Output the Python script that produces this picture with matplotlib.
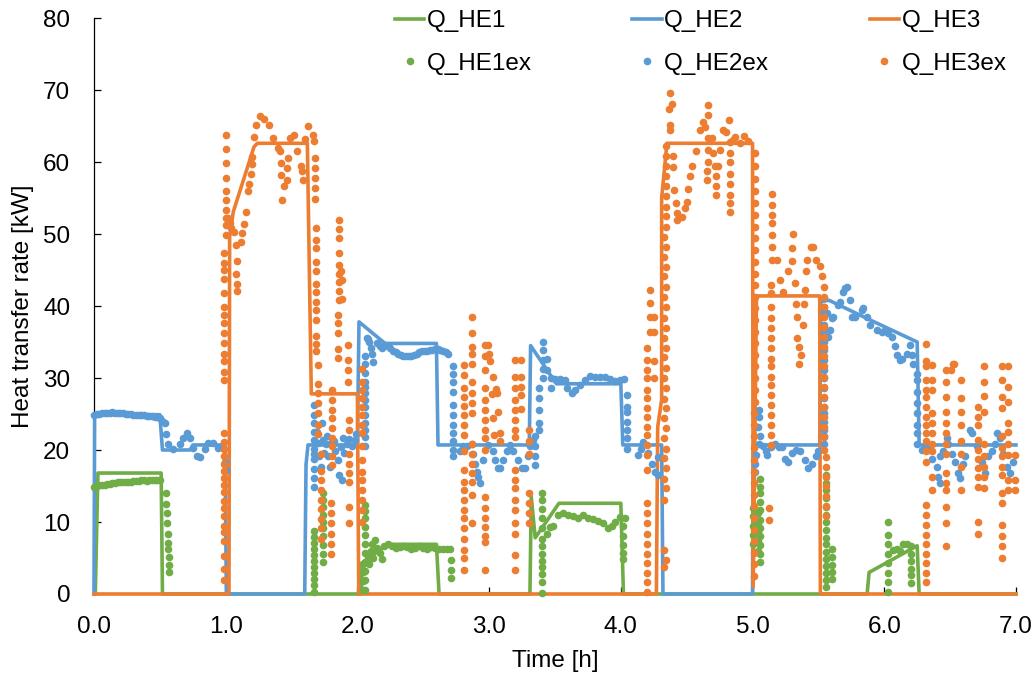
import matplotlib.pyplot as plt
from matplotlib.ticker import FormatStrFormatter

plt.rcParams['font.family'] = ['Liberation Sans', 'DejaVu Sans']

GREEN = '#70AD47'
BLUE = '#5B9BD5'
ORANGE = '#ED7D31'

# model curves (time in h, heat transfer rate in kW)
he1_t = [0.0, 0.01, 0.03, 0.51, 0.52, 2.03, 2.035, 2.23, 2.60, 2.62, 3.31, 3.32, 3.35, 3.53,
         4.00, 4.02, 5.87, 5.885, 6.25, 6.265, 7.0]
he1_q = [0, 0, 16.8, 16.8, 0, 0, 4.3, 6.9, 6.9, 0, 0, 13.5, 7.8, 12.6,
         12.6, 0, 0, 3.0, 6.7, 0, 0]

he2_t = [0.0, 0.005, 0.50, 0.52, 0.73, 0.75, 0.995, 1.005, 1.60, 1.61, 1.625, 2.00, 2.012,
         2.21, 2.60, 2.612, 3.305, 3.315, 3.51, 4.00, 4.015, 4.31, 4.32, 5.00, 5.005, 5.51,
         5.52, 5.58, 5.90, 6.25, 6.265, 7.0]
he2_q = [0, 24.9, 24.9, 20.0, 20.0, 20.7, 20.7, 0, 0, 18.0, 20.7, 20.7, 37.8,
         34.8, 34.8, 20.7, 20.7, 34.5, 29.2, 29.2, 20.7, 20.7, 0, 0, 20.7, 20.7,
         40.6, 40.8, 38.0, 35.0, 20.7, 20.7]

he3_t = [0.0, 1.025, 1.03, 1.058, 1.215, 1.24, 1.62, 1.65, 2.0, 2.01, 4.27, 4.28, 4.31,
         4.31, 4.35, 5.0, 5.005, 5.03, 5.51, 5.515, 7.0]
he3_q = [0, 0, 49.6, 53.1, 62.1, 62.6, 62.6, 27.8, 27.8, 0, 0, 23.2, 27.0,
         55.0, 62.6, 62.6, 1.0, 41.4, 41.4, 0, 0]

# measured values: vertical runs as (time, [values]) and single points as (time, value)
he1ex_cols = [
    (1.67, [0.3, 1.2, 2.1, 2.9, 3.8, 4.6, 5.4, 6.3, 7.1, 7.9, 8.7]),
    (1.74, [4.4, 5.6, 6.8, 8.0, 9.1, 10.0, 11.0, 12.1, 13.0, 14.0]),
    (2.04, [0.5, 1.8, 3.0, 4.2]),
    (2.06, [0.6, 1.9, 3.2, 4.5, 5.7, 6.9, 8.2, 9.3, 10.5, 11.5, 12.4]),
    (2.71, [2.2, 3.4, 4.7]),
    (3.405, [0.2, 1.6, 2.8, 3.7, 4.6, 5.5, 6.6, 7.7, 9.1, 10.5, 11.8, 13.0, 14.0]),
    (4.02, [4.8, 5.7, 6.8, 8.0, 9.4]),
    (5.005, [7.0, 8.2, 9.5, 10.8, 12.0]),
    (5.045, [6.0, 7.3, 8.6, 9.9, 11.3]),
    (5.06, [4.4, 5.6, 6.8, 8.0, 9.2, 10.3, 11.6, 12.8, 14.0, 14.9, 16.0]),
    (5.555, [1.0, 1.9, 2.9, 3.9, 4.9, 5.9, 6.9, 7.8, 8.9, 10.0, 11.0, 12.1, 13.3, 14.4, 15.4, 16.5]),
    (5.60, [2.1, 3.0, 4.0, 5.2, 6.3]),
    (6.03, [0.3, 1.7, 2.9, 4.3, 5.6, 7.0, 8.2, 10.0]),
    (6.205, [1.5, 2.6, 3.5, 4.6, 5.6, 6.6]),
]
he1ex_pts = [
    (0.00, 14.9), (0.02, 15.0), (0.04, 15.1), (0.06, 15.2), (0.08, 15.2), (0.10, 15.3),
    (0.12, 15.3), (0.14, 15.4), (0.16, 15.4), (0.18, 15.5), (0.20, 15.5), (0.22, 15.5),
    (0.24, 15.6), (0.26, 15.6), (0.28, 15.6), (0.30, 15.7), (0.32, 15.7), (0.34, 15.7),
    (0.36, 15.8), (0.38, 15.8), (0.40, 15.7), (0.42, 15.8), (0.44, 15.8), (0.46, 15.9),
    (0.48, 15.9), (0.50, 15.8),
    (0.547, 14.0), (0.550, 12.5), (0.553, 11.2), (0.557, 9.9), (0.560, 8.4), (0.563, 7.1),
    (0.565, 6.2), (0.568, 5.1), (0.570, 4.0), (0.572, 3.0),
    (2.08, 5.2), (2.09, 4.2), (2.10, 6.0), (2.11, 7.0), (2.12, 5.0), (2.13, 7.5), (2.15, 6.4),
    (2.17, 5.7), (2.19, 4.8), (2.20, 6.6), (2.23, 6.9), (2.26, 6.7), (2.29, 6.4), (2.32, 6.5),
    (2.35, 6.7), (2.38, 6.5), (2.41, 6.3), (2.44, 6.4), (2.47, 6.6), (2.50, 6.4), (2.53, 6.3),
    (2.56, 6.5), (2.59, 6.4), (2.62, 6.3), (2.65, 6.2), (2.68, 6.3), (2.70, 6.2),
    (3.437, 8.4), (3.462, 9.3), (3.488, 9.4), (3.526, 11.0), (3.564, 11.2), (3.601, 11.0),
    (3.639, 10.8), (3.677, 10.6), (3.715, 11.0), (3.753, 10.6), (3.791, 10.4), (3.829, 10.1),
    (3.867, 9.8), (3.905, 9.1), (3.930, 9.5), (3.956, 10.0), (3.994, 10.7), (4.032, 10.6),
    (6.07, 6.1), (6.10, 6.3), (6.12, 6.0), (6.145, 7.0), (6.17, 6.9),
]

he2ex_cols = [
    (1.668, [14.9, 16.1, 17.4, 18.8, 19.5, 20.2, 21.4, 22.5, 23.7, 24.9, 26.2]),
    (2.055, [20.5, 21.8, 22.8, 23.8, 24.9, 26.0, 26.9, 27.9, 28.7, 29.5, 30.7, 32.0, 33.0]),
    (2.725, [19.1, 20.0, 21.2, 22.3, 23.5, 24.9, 26.3, 28.0, 29.5, 30.6, 31.6]),
    (3.35, [17.9, 19.1, 20.5, 21.9]),
    (3.38, [22.8, 23.7, 25.6, 27.2, 28.6]),
    (3.41, [30.0, 31.3, 32.5, 33.9, 35.0]),
    (4.05, [20.2, 21.6, 22.8, 23.9, 25.3, 26.0, 27.6]),
    (5.54, [20.9, 21.9, 22.8, 23.9, 25.1, 26.0, 27.2, 28.6, 30.0, 31.1, 32.5, 33.9, 35.0,
            36.2, 37.4, 39.0, 39.9]),
    (6.245, [20.9, 22.3, 23.5, 25.1, 26.5, 28.1, 29.7, 30.6]),
]
he2ex_pts = [
    (0.00, 24.8), (0.02, 25.0), (0.04, 25.0), (0.06, 25.1), (0.08, 25.1), (0.10, 25.2),
    (0.12, 25.2), (0.14, 25.3), (0.16, 25.2), (0.18, 25.2), (0.20, 25.1), (0.22, 25.1),
    (0.24, 25.0), (0.26, 25.0), (0.28, 25.0), (0.30, 24.9), (0.32, 24.9), (0.34, 24.8),
    (0.36, 24.8), (0.38, 24.8), (0.40, 24.7), (0.42, 24.7), (0.44, 24.7), (0.46, 24.6),
    (0.48, 24.6), (0.50, 24.5),
    (0.52, 24.0), (0.539, 23.7), (0.547, 22.2), (0.564, 20.9), (0.602, 20.1), (0.653, 20.9),
    (0.678, 21.7), (0.704, 22.4), (0.729, 21.7), (0.754, 20.3), (0.779, 19.1), (0.805, 19.0),
    (0.843, 20.2), (0.868, 21.0), (0.906, 21.0), (0.944, 20.3), (0.982, 20.3), (0.995, 18.4),
    (1.002, 17.2),
    (1.69, 22.5), (1.70, 21.0), (1.71, 19.2), (1.72, 17.6), (1.735, 23.7), (1.74, 21.4),
    (1.745, 19.6), (1.76, 20.8), (1.77, 22.0), (1.78, 19.1), (1.79, 17.6), (1.80, 21.0),
    (1.82, 21.2), (1.83, 19.8), (1.85, 18.6), (1.86, 16.5), (1.875, 20.4), (1.88, 15.8),
    (1.89, 21.6), (1.90, 19.6), (1.92, 20.8), (1.94, 21.5), (1.96, 20.6), (1.98, 21.4),
    (1.99, 22.2),
    (2.07, 35.5), (2.08, 35.4), (2.09, 35.0), (2.10, 34.2), (2.11, 33.4), (2.12, 32.2),
    (2.15, 34.8), (2.17, 34.5), (2.19, 34.2), (2.21, 34.6), (2.23, 34.4), (2.25, 34.1),
    (2.27, 33.8), (2.29, 33.6), (2.31, 33.4), (2.33, 33.2), (2.35, 33.1), (2.37, 33.0),
    (2.39, 33.0), (2.41, 33.0), (2.43, 33.2), (2.45, 33.4), (2.47, 33.6), (2.49, 33.7),
    (2.51, 33.8), (2.53, 33.8), (2.55, 33.9), (2.57, 33.9), (2.59, 34.0), (2.61, 34.0),
    (2.63, 33.9), (2.65, 33.8), (2.67, 33.6), (2.69, 33.4),
    (2.779, 19.8), (2.80, 20.5), (2.830, 20.5), (2.868, 20.9), (2.880, 19.5), (2.893, 18.1),
    (2.906, 17.0), (2.918, 16.3), (2.931, 15.4), (2.956, 18.6), (2.994, 20.7), (3.032, 19.8),
    (3.045, 18.6), (3.070, 17.5), (3.083, 17.5), (3.108, 18.6), (3.133, 19.8), (3.159, 20.7),
    (3.184, 19.8), (3.222, 18.6), (3.247, 17.5), (3.273, 17.5), (3.298, 19.1), (3.311, 20.5),
    (3.336, 21.4),
    (3.437, 32.7), (3.44, 31.1), (3.47, 30.0), (3.47, 28.6), (3.500, 29.8), (3.538, 29.8),
    (3.576, 29.7), (3.589, 28.6), (3.627, 27.9), (3.652, 28.3), (3.690, 29.0), (3.728, 29.7),
    (3.766, 30.3), (3.804, 30.1), (3.842, 30.1), (3.880, 30.1), (3.918, 29.9), (3.956, 29.6),
    (3.994, 29.7), (4.024, 29.9),
    (4.133, 19.3), (4.15, 20.2), (4.17, 21.1), (4.21, 19.6), (4.238, 18.1), (4.26, 17.0),
    (4.28, 16.5), (4.285, 19.0),
    (5.015, 18.1), (5.019, 17.0), (5.025, 19.3), (5.05, 20.9), (5.055, 21.9), (5.045, 23.2),
    (5.05, 24.6), (5.05, 25.6), (5.08, 20.6), (5.10, 19.9), (5.11, 19.3), (5.14, 20.4),
    (5.17, 20.9), (5.20, 20.4), (5.22, 20.4), (5.25, 18.7), (5.27, 18.4), (5.30, 19.6),
    (5.33, 20.0), (5.36, 19.8), (5.40, 18.6), (5.42, 17.5), (5.45, 18.1), (5.48, 19.1),
    (5.50, 19.8),
    (5.563, 39.0), (5.576, 35.7), (5.588, 36.7), (5.601, 38.3), (5.614, 38.5), (5.651, 40.1),
    (5.664, 40.6), (5.690, 42.0), (5.702, 42.5), (5.715, 42.7), (5.740, 40.8), (5.753, 38.5),
    (5.778, 38.5), (5.829, 39.4), (5.841, 39.7), (5.867, 38.5), (5.892, 37.4), (5.943, 36.7),
    (5.981, 36.4), (6.006, 36.7), (6.031, 36.2), (6.057, 35.7), (6.082, 34.4), (6.095, 33.2),
    (6.120, 32.5), (6.133, 32.7), (6.171, 33.4), (6.196, 34.6), (6.209, 33.2), (6.221, 32.0),
    (6.285, 20.0), (6.310, 20.5), (6.335, 20.2), (6.360, 18.8), (6.399, 17.7), (6.41, 16.3),
    (6.42, 15.4), (6.424, 19.1), (6.449, 19.8), (6.474, 21.6), (6.487, 20.9), (6.512, 19.5),
    (6.538, 18.4), (6.563, 16.8), (6.575, 16.1), (6.601, 18.1), (6.613, 19.1), (6.651, 22.8),
    (6.664, 22.3), (6.702, 20.5), (6.740, 18.4), (6.765, 16.8), (6.791, 19.1), (6.816, 19.8),
    (6.841, 20.9), (6.854, 22.3), (6.879, 21.6), (6.904, 19.5), (6.930, 17.7), (6.955, 16.8),
    (6.981, 18.4),
]

he3ex_cols = [
    (0.985, [1.9, 3.5, 5.3, 7.4, 8.6, 9.5, 10.8, 12.0, 12.9, 14.1, 15.2, 16.1, 17.1, 18.0,
             19.2, 20.1, 21.1, 22.3]),
    (0.99, [29.7, 30.9, 32.3, 33.4, 34.8, 36.2, 37.6, 38.7, 39.8, 41.8, 43.8, 45.0, 46.0, 47.3]),
    (1.0, [49.9, 51.2, 52.2, 53.3, 54.7, 56.0, 57.8, 59.8, 61.8, 63.8]),
    (1.678, [54.9, 56.4, 57.8, 59.2, 60.5]),
    (1.685, [33.7, 34.7, 35.9, 38.0, 39.5, 40.5, 41.9, 43.1, 44.8, 46.1, 48.0, 49.1, 50.8]),
    (1.70, [22.2, 23.5, 25.2, 26.5, 27.9, 29.1, 31.8]),
    (1.725, [7.7, 9.1, 10.4, 11.8, 13.1, 14.4, 15.8, 17.1, 19.5]),
    (1.80, [5.6, 7.0, 8.4, 9.8, 11.2, 12.6]),
    (1.81, [17.9, 19.1, 20.5, 21.6, 23.0, 24.4, 25.6, 26.9, 28.3]),
    (1.85, [32.8, 34.0, 36.2, 37.6, 38.8]),
    (1.86, [40.9, 42.1, 43.3, 44.4, 45.7, 47.4, 49.4, 50.7, 52.0]),
    (1.93, [29.5, 31.1, 32.5, 34.6]),
    (1.935, [9.8, 12.1, 15.5, 16.8, 18.1, 19.5, 22.8, 24.2]),
    (2.035, [10.0, 11.7, 13.1, 14.4, 15.8, 17.0, 18.6, 20.5, 22.3, 23.5, 24.9, 26.0, 27.2,
             28.3, 29.4, 31.2]),
    (2.81, [3.3, 5.0, 6.1, 7.7, 9.1, 10.5, 11.7, 13.1, 14.4, 15.6, 17.2, 19.8, 22.1, 23.5,
            24.9, 26.1, 27.4, 28.6, 30.4, 31.8]),
    (2.87, [9.9, 13.8, 15.5, 16.8, 18.1, 19.5, 20.9, 25.1, 26.5, 27.9, 29.5, 32.0, 33.4,
            34.3, 36.2, 38.5]),
    (2.97, [3.3, 7.2, 8.1, 9.3, 10.6, 12.0, 13.5, 20.0, 21.6, 22.8, 24.2, 25.6, 26.9, 28.6,
            31.1, 33.0, 34.6]),
    (3.20, [3.4, 5.4, 8.4, 9.9, 11.7, 13.1, 14.7, 15.8, 17.2, 21.8, 22.8, 24.2, 25.6, 26.9,
            28.6, 30.2, 32.5]),
    (3.245, [25.7, 27.6, 28.8, 30.2, 32.5]),
    (3.30, [9.8, 11.2, 12.6, 14.0, 19.5, 21.2, 22.8]),
    (4.195, [0.3, 1.7, 2.9, 4.3, 5.6, 7.0, 8.4, 9.8, 11.2, 12.6, 17.2, 19.3, 20.7, 22.1,
             23.2, 24.6, 25.8, 27.2, 28.3, 30.0, 31.1, 32.5, 34.1]),
    (4.22, [36.4, 38.5, 40.4, 42.2]),
    (4.25, [30.0, 32.3, 36.4, 38.5]),
    (4.325, [3.8, 6.1, 13.1, 16.0, 18.9, 21.7, 24.4, 27.1, 30.0, 32.9, 35.6, 38.3, 41.2,
             44.1, 46.8, 49.6]),
    (4.34, [4.7, 14.7, 17.5, 20.2, 23.0, 25.9, 28.6, 31.4, 34.1, 37.0, 39.8, 42.7, 45.4,
            48.2, 51.0, 52.5, 53.8, 55.3, 56.6, 58.1, 59.4, 60.8, 62.2]),
    (5.01, [2.5, 4.1, 5.7, 7.3, 8.9, 10.6, 12.2, 13.8, 15.4, 17.0, 18.6, 20.3, 21.9, 23.5, 25.1]),
    (5.02, [26.7, 28.3, 30.0, 31.6, 33.2, 34.8, 36.4, 38.0, 39.7, 41.3, 42.9, 44.5, 46.1,
            47.8, 49.4, 51.0, 52.6, 54.3, 56.0, 57.6, 59.4, 61.2]),
    (5.128, [10.3, 11.9]),
    (5.14, [20.7, 22.1, 23.5, 24.9, 26.3, 27.6, 29.0, 30.2, 31.6, 32.7, 34.1, 35.5, 36.9,
            38.3, 39.9, 41.8, 42.9]),
    (5.15, [46.4, 48.2, 49.9, 51.5, 52.6, 54.0, 55.6]),
    (5.54, [20.0, 21.8, 23.2, 24.6, 26.0, 27.4, 28.8, 30.2, 31.6, 33.0, 34.3, 35.7, 37.1,
            38.5, 39.9, 41.3, 42.7]),
    (5.555, [10.8, 12.2, 13.6, 15.0, 16.3, 17.6, 19.0]),
    (6.315, [1.7, 2.9, 4.3, 5.6, 7.0, 8.2, 9.6, 11.0, 12.4, 18.4, 19.8, 21.2, 22.3, 23.5,
             24.6, 26.0, 27.4, 28.3, 29.7, 31.6, 32.3, 34.7]),
    (6.36, [14.4, 16.3, 19.8, 20.9, 22.3, 23.7, 25.1, 28.3, 29.7, 31.8]),
    (6.47, [6.6, 9.8, 12.1, 14.4, 15.4, 16.8, 19.5, 20.9, 22.3, 23.7, 25.3, 27.4, 29.5, 31.1]),
    (6.58, [14.4, 17.7, 19.5, 21.2, 23.5, 25.3, 27.2, 29.7]),
    (6.715, [8.4, 10.0, 14.9, 16.2, 17.5, 18.8, 20.0, 21.4, 23.5, 24.6, 26.0]),
    (6.755, [14.7, 16.3, 17.7, 19.1, 20.9, 25.3, 27.5, 29.5, 31.6]),
    (6.895, [5.0, 6.6, 8.0, 9.6, 12.6, 14.0, 16.5, 17.7, 19.1, 20.3, 21.9, 25.8, 27.4, 29.7, 31.6]),
    (6.94, [14.4, 15.8, 19.3, 20.9, 22.5, 23.7, 26.7, 28.8, 31.6]),
]
he3ex_pts = [
    (1.02, 52.2), (1.03, 51.5), (1.04, 50.8), (1.066, 50.3), (1.078, 48.5), (1.116, 48.9),
    (1.126, 50.1), (1.141, 51.4), (1.152, 53.1), (1.083, 46.2), (1.078, 44.4), (1.083, 43.0),
    (1.085, 42.1), (1.172, 56.0), (1.179, 57.0), (1.19, 58.3), (1.197, 59.7), (1.202, 60.7),
    (1.215, 63.5), (1.23, 65.1), (1.26, 66.4), (1.293, 66.0), (1.331, 65.2), (1.361, 63.4),
    (1.395, 62.0), (1.412, 61.5), (1.42, 59.8), (1.42, 58.2), (1.443, 56.7), (1.43, 54.7),
    (1.463, 57.5), (1.468, 59.1), (1.471, 60.6), (1.488, 63.4), (1.521, 63.8), (1.544, 61.5),
    (1.569, 59.4), (1.582, 58.7), (1.585, 57.5), (1.602, 63.2), (1.627, 65.0), (1.66, 63.8),
    (1.67, 62.9),
    (1.875, 44.9), (1.88, 43.6), (1.88, 41.0),
    (2.99, 34.6), (3.00, 33.4), (3.01, 32.3), (3.02, 27.8), (3.03, 30.2), (3.03, 24.4),
    (3.04, 22.1), (3.05, 28.5), (3.06, 27.9), (3.07, 25.3), (3.08, 22.3), (3.08, 21.2),
    (4.373, 69.6), (4.386, 68.1), (4.369, 67.3), (4.373, 65.1), (4.373, 64.4), (4.399, 60.8),
    (4.399, 59.3), (4.404, 56.1), (4.417, 54.3), (4.424, 52.9), (4.424, 51.9), (4.462, 52.3),
    (4.487, 53.6), (4.50, 54.5), (4.513, 56.3), (4.525, 58.0), (4.538, 59.4), (4.571, 61.5),
    (4.601, 64.4), (4.627, 65.6), (4.64, 64.9), (4.665, 67.9), (4.665, 66.5), (4.665, 63.3),
    (4.665, 61.7), (4.665, 60.0), (4.651, 58.7), (4.651, 57.5), (4.69, 63.3), (4.697, 61.2),
    (4.715, 59.4), (4.723, 58.0), (4.723, 56.6), (4.723, 55.4), (4.741, 59.4), (4.753, 61.7),
    (4.773, 64.4), (4.798, 64.2), (4.824, 65.8), (4.829, 62.8), (4.829, 61.3), (4.829, 60.0),
    (4.829, 58.4), (4.829, 56.9), (4.829, 55.4), (4.829, 54.3), (4.829, 53.1), (4.849, 63.0),
    (4.867, 63.5), (4.905, 62.7), (4.935, 63.6), (4.969, 62.9),
    (5.183, 46.4), (5.209, 43.6), (5.234, 42.0), (5.272, 44.8), (5.297, 46.2), (5.297, 48.0),
    (5.305, 50.0), (5.323, 43.2), (5.33, 40.3), (5.335, 38.5), (5.34, 35.5), (5.35, 34.3),
    (5.356, 32.0), (5.366, 33.2), (5.381, 37.4), (5.391, 40.3), (5.398, 42.2), (5.406, 44.9),
    (5.411, 46.4), (5.441, 48.2), (5.462, 48.2), (5.482, 46.4), (5.512, 45.5), (5.525, 44.1),
    (6.51, 31.1), (6.52, 32.0), (6.53, 32.0),
    (6.99, 19.3), (6.995, 15.8), (6.995, 14.4),
]


def unpack(cols, pts):
    t = [c[0] for c in cols for _ in c[1]] + [p[0] for p in pts]
    q = [v for c in cols for v in c[1]] + [p[1] for p in pts]
    return t, q


fig = plt.figure(figsize=(10.35, 6.77), dpi=100)
ax = fig.add_axes([0.0908, 0.1226, 0.8908, 0.8508])

lw = 2.6
l1, = ax.plot(he1_t, he1_q, color=GREEN, lw=lw, zorder=3, clip_on=False)
l2, = ax.plot(he2_t, he2_q, color=BLUE, lw=lw, zorder=3, clip_on=False)
l3, = ax.plot(he3_t, he3_q, color=ORANGE, lw=lw, zorder=3, clip_on=False)

ms = 5.5
t, q = unpack(he1ex_cols, he1ex_pts)
m1, = ax.plot(t, q, 'o', ms=ms, mew=0, color=GREEN, ls='none', zorder=4, clip_on=False)
t, q = unpack(he2ex_cols, he2ex_pts)
m2, = ax.plot(t, q, 'o', ms=ms, mew=0, color=BLUE, ls='none', zorder=4, clip_on=False)
t, q = unpack(he3ex_cols, he3ex_pts)
m3, = ax.plot(t, q, 'o', ms=ms, mew=0, color=ORANGE, ls='none', zorder=4, clip_on=False)

ax.set_xlim(0, 7)
ax.set_ylim(0, 80)
ax.set_xticks(range(8))
ax.set_yticks(range(0, 81, 10))
ax.xaxis.set_major_formatter(FormatStrFormatter('%.1f'))

for s in ['top', 'right']:
    ax.spines[s].set_visible(False)
ax.spines['left'].set_linewidth(0.9)
ax.spines['bottom'].set_color('#D9D9D9')
ax.tick_params(axis='both', direction='in', length=5, width=0.9, labelsize=17.5, color='black')
ax.tick_params(axis='y', pad=17)
ax.tick_params(axis='x', pad=16)

ax.set_xlabel('Time [h]', fontsize=17.5)
ax.set_ylabel('Heat transfer rate [kW]', fontsize=17.5)
ax.xaxis.set_label_coords(0.5, -0.097)
ax.yaxis.set_label_coords(-0.065, 0.5)

fig.legend([l1, m1, l2, m2, l3, m3],
           ['Q_HE1', 'Q_HE1ex', 'Q_HE2', 'Q_HE2ex', 'Q_HE3', 'Q_HE3ex'],
           ncol=3, loc='upper left', bbox_to_anchor=(0.3816, 0.985), frameon=False,
           borderpad=0, borderaxespad=0, handlelength=1.2, handletextpad=0.1,
           columnspacing=4.15, labelspacing=0.85, fontsize=17.5, numpoints=1)

fig.savefig('out.png', dpi=100)
